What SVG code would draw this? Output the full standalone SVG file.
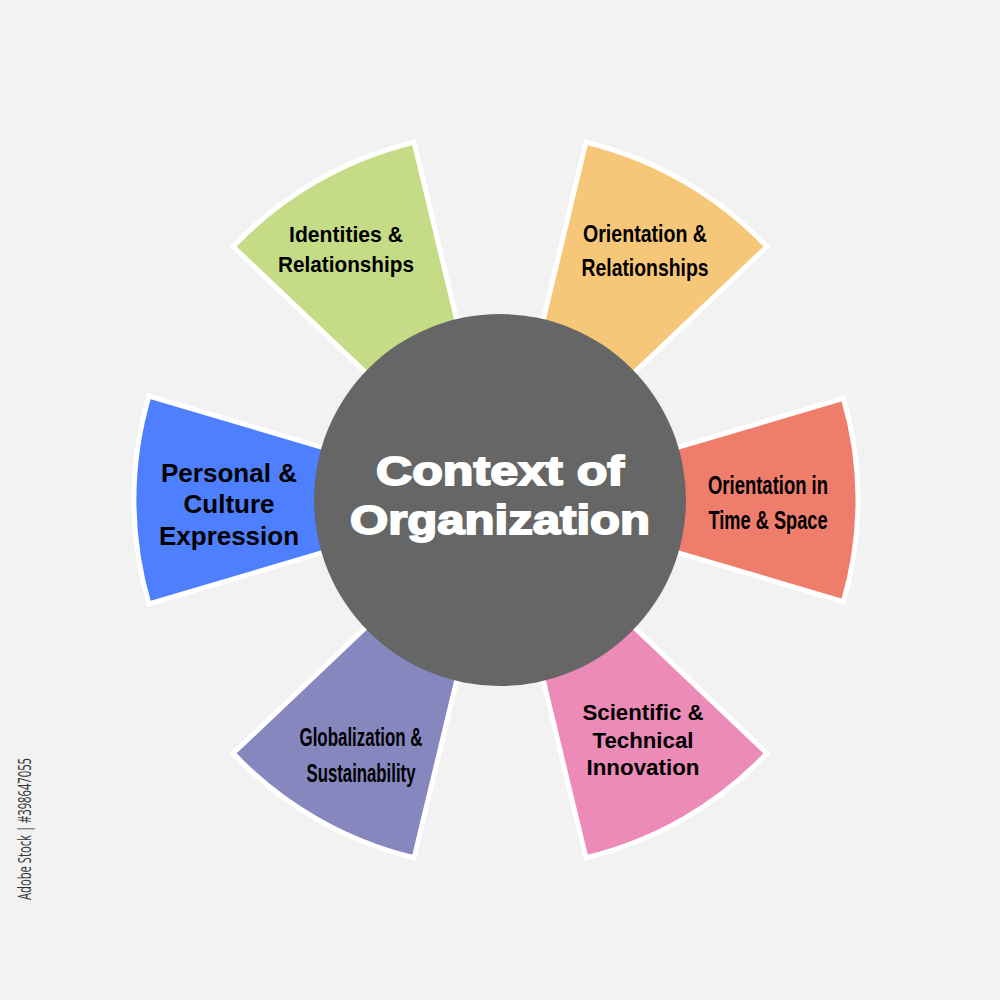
<svg xmlns="http://www.w3.org/2000/svg" width="1000" height="1000" viewBox="0 0 1000 1000">
<style>
.wedge{stroke:#ffffff;stroke-width:5;stroke-linejoin:miter}
.lbl{font-family:"Liberation Sans",Arial,sans-serif;font-weight:bold;fill:#000000;text-anchor:middle}
.ctr{font-family:"Liberation Sans",Arial,sans-serif;font-weight:bold;fill:#ffffff;stroke:#ffffff;stroke-width:1.8;text-anchor:middle;font-size:40px}
</style>
<rect width="1000" height="1000" fill="#f2f2f2"/>
<g id="node-identities">
<path class="wedge" fill="#c5db86" d="M 391.2 396.7 L 233.1 246.7 A 368 368 0 0 1 414.1 142.2 L 465.0 354.1 Z"/>
<text class="lbl" font-size="22" x="346" y="242" textLength="114" lengthAdjust="spacingAndGlyphs">Identities &amp;</text>
<text class="lbl" font-size="22" x="346" y="272" textLength="136" lengthAdjust="spacingAndGlyphs">Relationships</text>
</g>
<g id="node-orientation-rel">
<path class="wedge" fill="#f6c778" d="M 535.0 354.1 L 585.9 142.2 A 368 368 0 0 1 766.9 246.7 L 608.8 396.7 Z"/>
<text class="lbl" font-size="24" x="645" y="242" textLength="124" lengthAdjust="spacingAndGlyphs">Orientation &amp;</text>
<text class="lbl" font-size="24" x="645" y="276" textLength="127" lengthAdjust="spacingAndGlyphs">Relationships</text>
</g>
<g id="node-orientation-time">
<path class="wedge" fill="#ee7d6c" d="M 643.8 457.4 L 843.3 398.3 A 358 358 0 0 1 843.3 601.7 L 643.8 542.6 Z"/>
<text class="lbl" font-size="26" x="768" y="494" textLength="120" lengthAdjust="spacingAndGlyphs">Orientation in</text>
<text class="lbl" font-size="26" x="768" y="529" textLength="119" lengthAdjust="spacingAndGlyphs">Time &amp; Space</text>
</g>
<g id="node-scientific">
<path class="wedge" fill="#ec8bb8" d="M 608.8 603.3 L 766.9 753.3 A 368 368 0 0 1 585.9 857.8 L 535.0 645.9 Z"/>
<text class="lbl" font-size="22" x="643" y="720" textLength="121" lengthAdjust="spacingAndGlyphs">Scientific &amp;</text>
<text class="lbl" font-size="22" x="643" y="748" textLength="101" lengthAdjust="spacingAndGlyphs">Technical</text>
<text class="lbl" font-size="22" x="643" y="775" textLength="113" lengthAdjust="spacingAndGlyphs">Innovation</text>
</g>
<g id="node-globalization">
<path class="wedge" fill="#8787c0" d="M 465.0 645.9 L 414.1 857.8 A 368 368 0 0 1 233.1 753.3 L 391.2 603.3 Z"/>
<text class="lbl" font-size="25" x="361" y="746" textLength="123" lengthAdjust="spacingAndGlyphs">Globalization &amp;</text>
<text class="lbl" font-size="25" x="361" y="782" textLength="109" lengthAdjust="spacingAndGlyphs">Sustainability</text>
</g>
<g id="node-personal">
<path class="wedge" fill="#4d7fff" d="M 356.2 542.6 L 149 604 A 366 366 0 0 1 149 396 L 356.2 457.4 Z"/>
<text class="lbl" font-size="26" x="229" y="482" textLength="136" lengthAdjust="spacingAndGlyphs">Personal &amp;</text>
<text class="lbl" font-size="26" x="229" y="513" textLength="91" lengthAdjust="spacingAndGlyphs">Culture</text>
<text class="lbl" font-size="26" x="229" y="545" textLength="140" lengthAdjust="spacingAndGlyphs">Expression</text>
</g>
<g id="node-center">
<circle cx="500" cy="500" r="186" fill="#666666"/>
<text class="ctr" x="500" y="485" textLength="248" lengthAdjust="spacingAndGlyphs">Context of</text>
<text class="ctr" x="500" y="534" textLength="300" lengthAdjust="spacingAndGlyphs">Organization</text>
</g>
<g id="connectors"></g>
<text transform="translate(31,900) rotate(-90)" font-family="'Open Sans','DejaVu Sans',sans-serif" font-size="19" fill="#333333" textLength="142" lengthAdjust="spacingAndGlyphs">Adobe Stock | #398647055</text>
</svg>
